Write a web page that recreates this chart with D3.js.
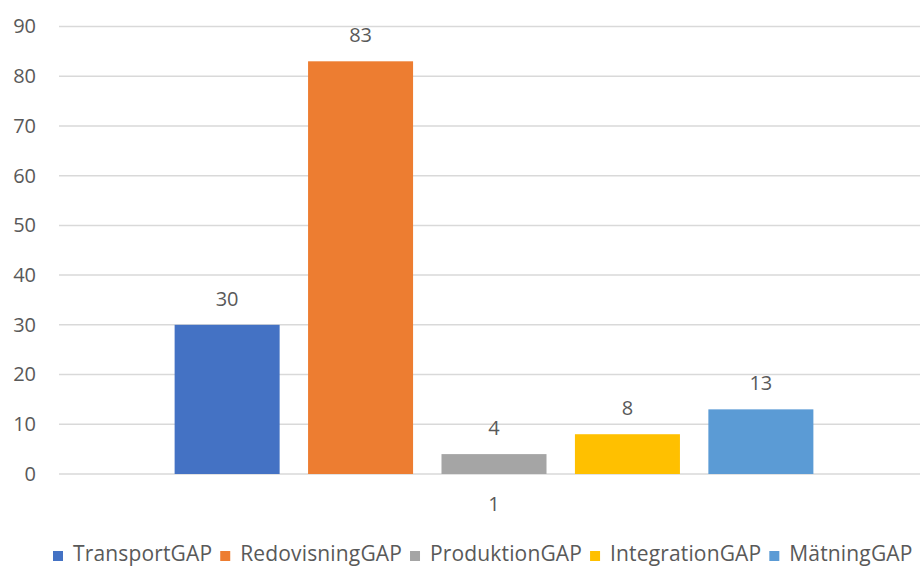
<!DOCTYPE html>
<html>
<head>
<meta charset="utf-8">
<script src="https://cdn.jsdelivr.net/npm/d3@7"></script>
<style>
  body { margin: 0; background: #fff; }
  text { font-family: "Open Sans", "Noto Sans", sans-serif; fill: #595959; }
</style>
</head>
<body>
<div id="chart"></div>
<script>
// Chart data
const categories = ["1"];
const seriesNames = ["TransportGAP", "RedovisningGAP", "ProduktionGAP", "IntegrationGAP", "MätningGAP"];
const seriesValues = [30, 83, 4, 8, 13];
const seriesColors = ["#4472C4", "#ED7D31", "#A5A5A5", "#FFC000", "#5B9BD5"];
const yTicks = [0, 10, 20, 30, 40, 50, 60, 70, 80, 90];

const width = 920, height = 567;
const margin = {top: 26.5, right: -9, bottom: 93, left: 59};
const innerW = width - margin.left - margin.right,
      innerH = height - margin.top - margin.bottom;

const svg = d3.select('#chart')
    .append('svg')
        .attr('width', width)
        .attr('height', height);

const g = svg.append('g')
    .attr('transform', `translate(${margin.left},${margin.top})`);

const y = d3.scaleLinear()
    .domain([0, 90])
    .range([innerH, 0]);

const x0 = d3.scaleBand()
    .domain(categories)
    .range([0, innerW])
    .paddingInner(0)
    .paddingOuter(0.152);

const x1 = d3.scaleBand()
    .domain(seriesNames)
    .range([0, x0.bandwidth()])
    .paddingInner(0.213)
    .paddingOuter(0.1065);

// Gridlines
g.selectAll('.grid')
    .data(yTicks)
    .enter().append('line')
        .attr('x1', 0)
        .attr('x2', innerW)
        .attr('y1', d => y(d))
        .attr('y2', d => y(d))
        .attr('stroke', '#d9d9d9')
        .attr('stroke-width', 1.5);

// Y axis labels
const yAxis = g.append('g')
    .call(d3.axisLeft(y).tickValues(yTicks).tickSize(0).tickPadding(23));
yAxis.select('.domain').remove();
yAxis.selectAll('text')
    .attr('font-size', 20)
    .attr('font-family', '"Open Sans", "Noto Sans", sans-serif')
    .attr('fill', '#595959');

// Category axis label
const xAxis = g.append('g')
    .attr('transform', `translate(0,${innerH})`)
    .call(d3.axisBottom(x0).tickSize(0).tickPadding(23));
xAxis.select('.domain').remove();
xAxis.selectAll('text')
    .attr('font-size', 20)
    .attr('font-family', '"Open Sans", "Noto Sans", sans-serif')
    .attr('fill', '#595959');

// Bars
const barData = seriesNames.map((name, i) => ({name: name, value: seriesValues[i], color: seriesColors[i], cat: categories[0]}));

g.selectAll('.bar')
    .data(barData)
    .enter().append('rect')
        .attr('x', d => x0(d.cat) + x1(d.name))
        .attr('y', d => y(d.value))
        .attr('width', x1.bandwidth())
        .attr('height', d => innerH - y(d.value))
        .attr('fill', d => d.color);

// Data labels
g.selectAll('.label')
    .data(barData)
    .enter().append('text')
        .attr('x', d => x0(d.cat) + x1(d.name) + x1.bandwidth() / 2)
        .attr('y', d => y(d.value) - 19)
        .attr('text-anchor', 'middle')
        .attr('font-size', 20)
        .text(d => d.value);

// Legend
const legend = svg.append('g')
    .attr('transform', 'translate(53,561)');
let lx = 0;
barData.forEach(d => {
    legend.append('rect')
        .attr('x', lx)
        .attr('y', -10)
        .attr('width', 10)
        .attr('height', 10)
        .attr('fill', d.color);
    const t = legend.append('text')
        .attr('x', lx + 20)
        .attr('y', 0)
        .attr('font-size', 21)
        .attr('letter-spacing', 0.15)
        .text(d.name);
    lx += 20 + t.node().getComputedTextLength() + 8;
});
</script>
</body>
</html>
